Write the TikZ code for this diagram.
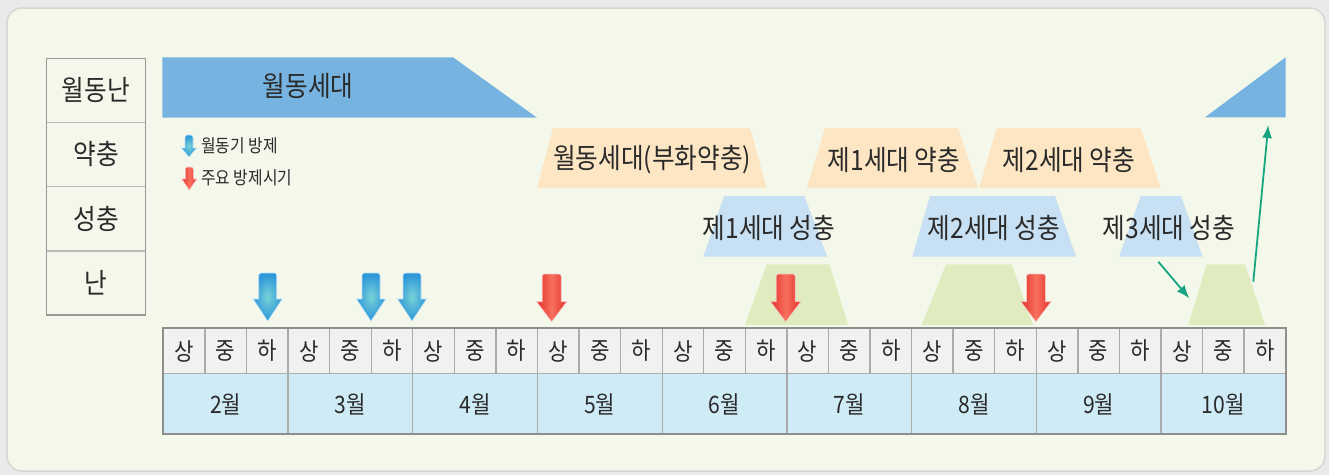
\documentclass[tikz,border=0pt]{standalone}
\usepackage{fontspec}
\setmainfont{Noto Sans CJK KR}[FakeStretch=0.88]
\usetikzlibrary{arrows.meta}
\definecolor{outerbg}{HTML}{E9EAEA}
\definecolor{framebg}{HTML}{F4F8EA}
\definecolor{frameline}{HTML}{D5D7D3}
\definecolor{bandblue}{HTML}{77B3E1}
\definecolor{orangec}{HTML}{FDE6C3}
\definecolor{lblue}{HTML}{C8E0F3}
\definecolor{greenc}{HTML}{E0EBC0}
\definecolor{teal}{HTML}{16A580}
\definecolor{rowup}{HTML}{F1F1EF}
\definecolor{rowlow}{HTML}{CFEBF6}
\definecolor{tline}{HTML}{ABABAB}
\definecolor{touter}{HTML}{8E8E8E}
\definecolor{txt}{HTML}{2A2A2A}
\definecolor{bluedk}{HTML}{2A96DA}
\definecolor{bluelt}{HTML}{78D2D6}
\definecolor{reddk}{HTML}{E5302A}
\definecolor{redlt}{HTML}{F7705F}
\newcommand\dnarrow[7]{%
  \path[#7] ({#1-#6},#3) -- ({#1-#5},#3) [rounded corners=2.5pt]-- ({#1-#5},#2) -- ({#1+#5},#2) [sharp corners]-- ({#1+#5},#3) -- ({#1+#6},#3) -- (#1,#4) -- cycle;}
\begin{document}
\begin{tikzpicture}[x=1pt,y=-1pt,
  big/.style={font=\fontsize{28}{32}\selectfont, text=txt, inner sep=0pt},
  cell/.style={font=\fontsize{24}{28}\selectfont, text=txt, inner sep=0pt},
  leg/.style={font=\fontsize{18}{21}\selectfont, text=txt, inner sep=0pt, anchor=west},
  bluearr/.style={inner color=bluelt, outer color=bluedk, draw=white!70!bluedk, line width=0.6pt},
  redarr/.style={left color=reddk, right color=reddk, middle color=redlt, draw=white!70!reddk, line width=0.6pt},
  conn/.style={teal, line width=1.8pt, -{Latex[length=13pt,width=10pt]}}]
\useasboundingbox (0,0) rectangle (1329,475);
\fill[outerbg] (0,0) rectangle (1329,475);
\draw[frameline, fill=framebg, line width=1.5pt, rounded corners=15pt] (7,8) rectangle (1325,471);

% left table
\fill[framebg] (46.7,58.3) rectangle (145.7,315);
\foreach \yy in {122.3,186.7,251} \draw[tline!80, line width=1.3pt] (46.7,\yy) -- (145.7,\yy);
\draw[touter!90, line width=1.5pt] (46.7,58.3) rectangle (145.7,315);
\node[big] (r1) at (96,90) {월동난};
\node[big] (r2) at (96,154) {약충};
\node[big] (r3) at (96,219) {성충};
\node[big] (r4) at (96,283) {난};

% top band
\fill[bandblue] (162.3,57.3) -- (453,57.3) -- (537,117.7) -- (162.3,117.7) -- cycle;
\node[big] (band) at (308,86) {월동세대};
\fill[bandblue] (1205,117.3) -- (1285.7,57.3) -- (1285.7,117.3) -- cycle;

% legend
\dnarrow{189}{135}{148}{157}{4}{7.5}{bluearr}
\node[leg] (leg1) at (201,146) {월동기 방제};
\dnarrow{189.3}{167}{179}{190}{4}{7.5}{redarr}
\node[leg] (leg2) at (201,178) {주요 방제시기};

% larva (orange)
\fill[orangec] (553,128) -- (750,128) -- (766.7,188) -- (537,188) -- cycle;
\fill[orangec] (825,128) -- (958.3,128) -- (978.3,188) -- (806.7,188) -- cycle;
\fill[orangec] (996.7,128) -- (1140.7,128) -- (1160.7,188) -- (979,188) -- cycle;
\node[big] (l0) at (652,160) {월동세대(부화약충)};
\node[big] (l1) at (894,160) {제1세대 약충};
\node[big] (l2) at (1069,160) {제2세대 약충};

% adults (light blue)
\fill[lblue] (724,196) -- (804.3,196) -- (827.3,256.7) -- (703.3,256.7) -- cycle;
\fill[lblue] (930,196) -- (1055,196) -- (1076,256.7) -- (912.3,256.7) -- cycle;
\fill[lblue] (1140.7,196) -- (1181,196) -- (1202.7,256.7) -- (1119,256.7) -- cycle;
\node[big] (a1) at (769,228) {제1세대 성충};
\node[big] (a2) at (994,228) {제2세대 성충};
\node[big] (a3) at (1169,228) {제3세대 성충};

% eggs (green)
\fill[greenc] (766.7,264.3) -- (829.3,264.3) -- (848.3,325) -- (745,325) -- cycle;
\fill[greenc] (946,264.3) -- (1011.7,264.3) -- (1033,325) -- (921.7,325) -- cycle;
\fill[greenc] (1206.7,264.3) -- (1245,264.3) -- (1265,325) -- (1188.3,325) -- cycle;

% control arrows
\dnarrow{267.7}{273}{299}{321}{9}{14.5}{bluearr}
\dnarrow{371}{273}{299}{321}{9}{14.5}{bluearr}
\dnarrow{412}{273}{299}{321}{9}{14.5}{bluearr}
\dnarrow{551.7}{274}{301.7}{321.7}{9.5}{15}{redarr}
\dnarrow{785.7}{274}{301.7}{321.7}{9.5}{15}{redarr}
\dnarrow{1036}{274}{301.7}{321.7}{9.5}{15}{redarr}

% green connectors
\coordinate (g1s) at (1158.3,261.7);
\coordinate (g1e) at (1189.3,298.3);
\coordinate (g2s) at (1253.3,281.7);
\coordinate (g2e) at (1268.3,125);
\draw[conn] (g1s) -- (g1e);
\draw[conn] (g2s) -- (g2e);

% timeline table
\fill[rowup] (163.3,328.3) rectangle (1285.7,373.3);
\fill[rowlow] (163.3,373.3) rectangle (1285.7,434);
\foreach \i in {1,...,26} \draw[tline, line width=1.3pt] ({163.3+\i*41.57},328.3) -- ({163.3+\i*41.57},373.3);
\foreach \i in {1,...,8} \draw[tline, line width=1.3pt] ({163.3+\i*124.71},373.3) -- ({163.3+\i*124.71},434);
\draw[tline, line width=1.3pt] (163.3,373.3) -- (1285.7,373.3);
\draw[touter, line width=2pt] (163.3,328.3) rectangle (1285.7,434);
\foreach \m [count=\k from 0] in {2,...,10} {
  \node[cell] (m\m) at ({163.3+(\k+0.5)*124.71},404) {\m{}월};
  \foreach \s [count=\j from 0] in {상,중,하} {
    \node[cell] (s\m-\j) at ({163.3+(3*\k+\j+0.5)*41.57},351) {\s};
  }
}
\end{tikzpicture}
\end{document}
